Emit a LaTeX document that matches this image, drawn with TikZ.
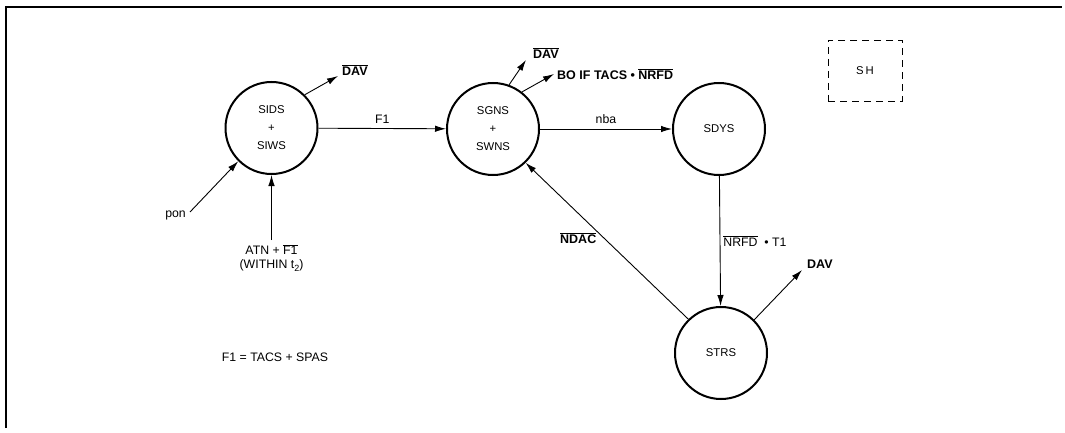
\documentclass[tikz,border=0pt]{standalone}
\usepackage{fontspec}
\setmainfont{Liberation Sans}
\usetikzlibrary{arrows.meta}
\newcommand\ovl[1]{$\overline{\hbox{#1}}$}
\tikzset{
  state/.style={circle,draw,line width=2pt,minimum size=92pt,inner sep=0pt,align=center,font=\fontsize{11.3}{18}\selectfont},
  arr/.style={line width=0.9pt,-{Latex[length=11pt,width=6.5pt]}},
  lbl/.style={font=\fontsize{12.3}{14}\selectfont,inner sep=1pt},
  blbl/.style={font=\bfseries\fontsize{12.5}{14}\selectfont,inner sep=1pt},
}
\begin{document}
\begin{tikzpicture}[x=1pt,y=-1pt]
\useasboundingbox (0,0) rectangle (1065,433);
% frame
\coordinate (fl) at (6,428);
\coordinate (fc) at (6,7);
\coordinate (fr) at (1062,7);
\draw[line width=1.4pt] (fl) -- (fc) -- (fr);
% states
\node[state] (sids) at (271.5,128) {SIDS\\+\\SIWS};
\node[state] (sgns) at (493,129) {SGNS\\+\\SWNS};
\node[state] (sdys) at (719,129) {SDYS};
\node[state] (strs) at (721,353) {STRS};
% SH box
\node[draw,dashed,dash pattern=on 7pt off 5pt,line width=0.9pt,minimum width=74pt,minimum height=61pt,font=\fontsize{11.3}{13}\selectfont] (sh) at (865,70.5) {S\,H};
% transitions
\draw[arr] (sids) -- node[lbl,above=4pt] (f1) {F1} (sgns);
\draw[arr] (sgns) -- node[lbl,above=4pt] (nba) {nba} (sdys);
\draw[arr] (sdys) -- node[lbl,right=2pt,pos=0.5] (nrfd) {\ovl{NRFD}\ \ \textbullet\ T1} (strs);
\draw[arr] (strs.134) -- node[blbl,left=6pt,pos=0.52] (ndac) {\ovl{NDAC}} (sgns.-46);
% outputs
\coordinate (d1) at (338,76);
\node[blbl,anchor=west] (d1l) at (341,70) {\ovl{DAV}};
\draw[arr] (sids.45) -- (d1);
\coordinate (d2) at (526,60);
\node[blbl,anchor=west] (d2l) at (532,53) {\ovl{DAV}};
\draw[arr] (sgns.70) -- (d2);
\coordinate (d3) at (554,74);
\node[blbl,anchor=west] (d3l) at (556,74) {BO IF TACS \textbullet\ \ovl{NRFD}};
\draw[arr] (sgns.52) -- (d3);
\coordinate (d4) at (802,270);
\node[blbl,anchor=west] (d4l) at (806,264) {DAV};
\draw[arr] (strs.45) -- (d4);
% inputs
\coordinate (p0) at (190,212);
\node[lbl,anchor=east] (pon) at (187,215) {pon};
\draw[arr] (p0) -- (sids.-135);
\coordinate (a0) at (271.5,240);
\node[lbl,align=center,anchor=north] (atn) at (271.5,243) {ATN + \ovl{F1}\\(WITHIN t\raisebox{-0.45ex}{\fontsize{9}{10}\selectfont 2})};
\draw[arr] (a0) -- (sids);
% note
\node[lbl] (note) at (275,357) {F1 = TACS + SPAS};
\end{tikzpicture}
\end{document}
